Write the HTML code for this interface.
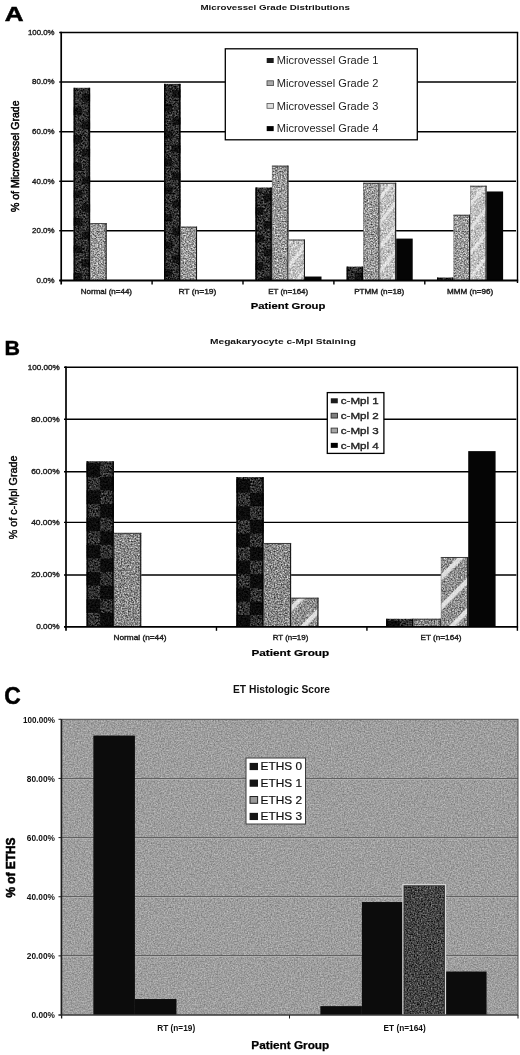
<!DOCTYPE html>
<html lang="en"><head><meta charset="utf-8"><title>Microvessel grade, c-Mpl staining and ET histologic score</title>
<style>
html,body{margin:0;padding:0;background:#fff;}
body{width:520px;height:1055px;overflow:hidden;}
svg{display:block;font-family:"Liberation Sans", sans-serif;}
</style></head><body>
<svg width="520" height="1055" viewBox="0 0 520 1055">
<defs>
<filter id="nbg" x="0" y="0" width="100%" height="100%" color-interpolation-filters="sRGB"><feTurbulence type="fractalNoise" baseFrequency="0.7" numOctaves="4" seed="5" result="t"/><feColorMatrix in="t" type="matrix" values="0.380 0 0 0 0.428  0.380 0 0 0 0.428  0.380 0 0 0 0.428  0 0 0 0 1" result="w"/><feComposite in="w" in2="SourceGraphic" operator="in"/></filter>
<filter id="ng1" x="0" y="0" width="100%" height="100%" color-interpolation-filters="sRGB"><feTurbulence type="fractalNoise" baseFrequency="0.6" numOctaves="3" seed="7" result="t"/><feColorMatrix in="t" type="matrix" values="0.800 0 0 0 -0.215  0.800 0 0 0 -0.215  0.800 0 0 0 -0.215  0 0 0 0 1" result="w"/><feComposite in="w" in2="SourceGraphic" operator="in"/></filter>
<filter id="ng2" x="0" y="0" width="100%" height="100%" color-interpolation-filters="sRGB"><feTurbulence type="fractalNoise" baseFrequency="0.7" numOctaves="4" seed="11" result="t"/><feColorMatrix in="t" type="matrix" values="1.050 0 0 0 0.075  1.050 0 0 0 0.075  1.050 0 0 0 0.075  0 0 0 0 1" result="w"/><feComposite in="w" in2="SourceGraphic" operator="in"/></filter>
<filter id="ng2b" x="0" y="0" width="100%" height="100%" color-interpolation-filters="sRGB"><feTurbulence type="fractalNoise" baseFrequency="0.7" numOctaves="4" seed="23" result="t"/><feColorMatrix in="t" type="matrix" values="1.000 0 0 0 0.035  1.000 0 0 0 0.035  1.000 0 0 0 0.035  0 0 0 0 1" result="w"/><feComposite in="w" in2="SourceGraphic" operator="in"/></filter>
<filter id="ng3" x="0" y="0" width="100%" height="100%" color-interpolation-filters="sRGB"><feTurbulence type="fractalNoise" baseFrequency="0.6" numOctaves="4" seed="19" result="t"/><feColorMatrix in="t" type="matrix" values="0.750 0 0 0 0.375  0.750 0 0 0 0.375  0.750 0 0 0 0.375  0 0 0 0 1" result="w"/><feComposite in="w" in2="SourceGraphic" operator="in"/></filter>
<filter id="ng3b" x="0" y="0" width="100%" height="100%" color-interpolation-filters="sRGB"><feTurbulence type="fractalNoise" baseFrequency="0.7" numOctaves="4" seed="17" result="t"/><feColorMatrix in="t" type="matrix" values="0.950 0 0 0 0.085  0.950 0 0 0 0.085  0.950 0 0 0 0.085  0 0 0 0 1" result="w"/><feComposite in="w" in2="SourceGraphic" operator="in"/></filter>
<filter id="ne2" x="0" y="0" width="100%" height="100%" color-interpolation-filters="sRGB"><feTurbulence type="fractalNoise" baseFrequency="0.7" numOctaves="4" seed="13" result="t"/><feColorMatrix in="t" type="matrix" values="0.750 0 0 0 -0.110  0.750 0 0 0 -0.110  0.750 0 0 0 -0.110  0 0 0 0 1" result="w"/><feComposite in="w" in2="SourceGraphic" operator="in"/></filter>
<pattern id="diagB" width="21" height="21" patternUnits="userSpaceOnUse" patternTransform="rotate(-45) translate(0,4)">
<rect x="0" y="0" width="21" height="4.6" fill="#f4f4f4" opacity="0.8"/>
</pattern>
<pattern id="diagA" width="15" height="15" patternUnits="userSpaceOnUse" patternTransform="rotate(-52)">
<rect x="0" y="0" width="15" height="3.2" fill="#f6f6f6" opacity="0.6"/>
</pattern>
</defs>
<rect width="520" height="1055" fill="#fff"/>

<text x="4.7" y="21.2" font-size="20" font-weight="bold" fill="#000" text-anchor="start" textLength="18.8" lengthAdjust="spacingAndGlyphs" stroke="#000" stroke-width="0.5">A</text>
<text x="200.4" y="10.1" font-size="8" font-weight="bold" fill="#111" text-anchor="start" textLength="149.5" lengthAdjust="spacingAndGlyphs">Microvessel Grade Distributions</text>
<line x1="61.20" y1="82.00" x2="516.00" y2="82.00" stroke="#000" stroke-width="1.4"/>
<line x1="61.20" y1="131.70" x2="516.00" y2="131.70" stroke="#000" stroke-width="1.4"/>
<line x1="61.20" y1="181.30" x2="516.00" y2="181.30" stroke="#000" stroke-width="1.4"/>
<line x1="61.20" y1="230.70" x2="516.00" y2="230.70" stroke="#000" stroke-width="1.4"/>
<rect x="73.60" y="87.80" width="16.53" height="192.70" fill="#292929" filter="url(#ng1)"/>
<rect x="73.60" y="87.80" width="1.60" height="192.70" fill="#000" opacity="0.85"/>
<rect x="88.52" y="87.80" width="1.60" height="192.70" fill="#000" opacity="0.85"/>
<rect x="81.86" y="93.80" width="8.26" height="7.50" fill="#000" opacity="0.6"/>
<rect x="73.60" y="107.60" width="8.26" height="7.50" fill="#000" opacity="0.6"/>
<rect x="81.86" y="121.40" width="8.26" height="7.50" fill="#000" opacity="0.6"/>
<rect x="73.60" y="135.20" width="8.26" height="7.50" fill="#000" opacity="0.6"/>
<rect x="81.86" y="149.00" width="8.26" height="7.50" fill="#000" opacity="0.6"/>
<rect x="73.60" y="162.80" width="8.26" height="7.50" fill="#000" opacity="0.6"/>
<rect x="81.86" y="176.60" width="8.26" height="7.50" fill="#000" opacity="0.6"/>
<rect x="73.60" y="190.40" width="8.26" height="7.50" fill="#000" opacity="0.6"/>
<rect x="81.86" y="204.20" width="8.26" height="7.50" fill="#000" opacity="0.6"/>
<rect x="73.60" y="218.00" width="8.26" height="7.50" fill="#000" opacity="0.6"/>
<rect x="81.86" y="231.80" width="8.26" height="7.50" fill="#000" opacity="0.6"/>
<rect x="73.60" y="245.60" width="8.26" height="7.50" fill="#000" opacity="0.6"/>
<rect x="81.86" y="259.40" width="8.26" height="7.50" fill="#000" opacity="0.6"/>
<rect x="73.60" y="273.20" width="8.26" height="7.30" fill="#000" opacity="0.6"/>
<rect x="90.12" y="223.21" width="16.53" height="57.29" fill="#a2a2a2" filter="url(#ng2)"/>
<rect x="105.55" y="223.21" width="1.10" height="57.29" fill="#1a1a1a"/>
<rect x="90.12" y="223.21" width="16.53" height="0.90" fill="#333"/>
<rect x="90.12" y="223.21" width="0.70" height="57.29" fill="#666" opacity="0.6"/>
<rect x="164.00" y="83.84" width="16.53" height="196.66" fill="#292929" filter="url(#ng1)"/>
<rect x="164.00" y="83.84" width="1.60" height="196.66" fill="#000" opacity="0.85"/>
<rect x="178.92" y="83.84" width="1.60" height="196.66" fill="#000" opacity="0.85"/>
<rect x="172.26" y="89.84" width="8.26" height="7.50" fill="#000" opacity="0.6"/>
<rect x="164.00" y="103.64" width="8.26" height="7.50" fill="#000" opacity="0.6"/>
<rect x="172.26" y="117.44" width="8.26" height="7.50" fill="#000" opacity="0.6"/>
<rect x="164.00" y="131.24" width="8.26" height="7.50" fill="#000" opacity="0.6"/>
<rect x="172.26" y="145.04" width="8.26" height="7.50" fill="#000" opacity="0.6"/>
<rect x="164.00" y="158.84" width="8.26" height="7.50" fill="#000" opacity="0.6"/>
<rect x="172.26" y="172.64" width="8.26" height="7.50" fill="#000" opacity="0.6"/>
<rect x="164.00" y="186.44" width="8.26" height="7.50" fill="#000" opacity="0.6"/>
<rect x="172.26" y="200.24" width="8.26" height="7.50" fill="#000" opacity="0.6"/>
<rect x="164.00" y="214.04" width="8.26" height="7.50" fill="#000" opacity="0.6"/>
<rect x="172.26" y="227.84" width="8.26" height="7.50" fill="#000" opacity="0.6"/>
<rect x="164.00" y="241.64" width="8.26" height="7.50" fill="#000" opacity="0.6"/>
<rect x="172.26" y="255.44" width="8.26" height="7.50" fill="#000" opacity="0.6"/>
<rect x="164.00" y="269.24" width="8.26" height="7.50" fill="#000" opacity="0.6"/>
<rect x="180.52" y="226.68" width="16.53" height="53.82" fill="#a2a2a2" filter="url(#ng2)"/>
<rect x="195.95" y="226.68" width="1.10" height="53.82" fill="#1a1a1a"/>
<rect x="180.52" y="226.68" width="16.53" height="0.90" fill="#333"/>
<rect x="180.52" y="226.68" width="0.70" height="53.82" fill="#666" opacity="0.6"/>
<rect x="255.40" y="187.50" width="16.53" height="93.00" fill="#292929" filter="url(#ng1)"/>
<rect x="255.40" y="187.50" width="1.60" height="93.00" fill="#000" opacity="0.85"/>
<rect x="270.32" y="187.50" width="1.60" height="93.00" fill="#000" opacity="0.85"/>
<rect x="263.66" y="193.50" width="8.26" height="7.50" fill="#000" opacity="0.6"/>
<rect x="255.40" y="207.30" width="8.26" height="7.50" fill="#000" opacity="0.6"/>
<rect x="263.66" y="221.10" width="8.26" height="7.50" fill="#000" opacity="0.6"/>
<rect x="255.40" y="234.90" width="8.26" height="7.50" fill="#000" opacity="0.6"/>
<rect x="263.66" y="248.70" width="8.26" height="7.50" fill="#000" opacity="0.6"/>
<rect x="255.40" y="262.50" width="8.26" height="7.50" fill="#000" opacity="0.6"/>
<rect x="263.66" y="276.30" width="8.26" height="4.20" fill="#000" opacity="0.6"/>
<rect x="271.92" y="165.68" width="16.53" height="114.82" fill="#a2a2a2" filter="url(#ng2)"/>
<rect x="287.35" y="165.68" width="1.10" height="114.82" fill="#1a1a1a"/>
<rect x="271.92" y="165.68" width="16.53" height="0.90" fill="#333"/>
<rect x="271.92" y="165.68" width="0.70" height="114.82" fill="#666" opacity="0.6"/>
<rect x="288.45" y="239.58" width="16.53" height="40.92" fill="#b8b8b8" filter="url(#ng3)"/>
<rect x="288.45" y="239.58" width="16.53" height="40.92" fill="url(#diagA)"/>
<rect x="303.88" y="239.58" width="1.10" height="40.92" fill="#1a1a1a"/>
<rect x="288.45" y="239.58" width="16.53" height="0.90" fill="#333"/>
<rect x="288.45" y="239.58" width="0.70" height="40.92" fill="#666" opacity="0.6"/>
<rect x="304.98" y="276.53" width="16.53" height="3.97" fill="#050505"/>
<rect x="346.60" y="266.61" width="16.53" height="13.89" fill="#292929" filter="url(#ng1)"/>
<rect x="346.60" y="266.61" width="1.60" height="13.89" fill="#000" opacity="0.85"/>
<rect x="361.52" y="266.61" width="1.60" height="13.89" fill="#000" opacity="0.85"/>
<rect x="354.86" y="272.61" width="8.26" height="7.50" fill="#000" opacity="0.6"/>
<rect x="363.12" y="182.79" width="16.53" height="97.71" fill="#a2a2a2" filter="url(#ng2)"/>
<rect x="378.55" y="182.79" width="1.10" height="97.71" fill="#1a1a1a"/>
<rect x="363.12" y="182.79" width="16.53" height="0.90" fill="#333"/>
<rect x="363.12" y="182.79" width="0.70" height="97.71" fill="#666" opacity="0.6"/>
<rect x="379.65" y="182.79" width="16.53" height="97.71" fill="#b8b8b8" filter="url(#ng3)"/>
<rect x="379.65" y="182.79" width="16.53" height="97.71" fill="url(#diagA)"/>
<rect x="395.08" y="182.79" width="1.10" height="97.71" fill="#1a1a1a"/>
<rect x="379.65" y="182.79" width="16.53" height="0.90" fill="#333"/>
<rect x="379.65" y="182.79" width="0.70" height="97.71" fill="#666" opacity="0.6"/>
<rect x="396.18" y="238.59" width="16.53" height="41.91" fill="#050505"/>
<rect x="437.00" y="277.52" width="16.53" height="2.98" fill="#292929" filter="url(#ng1)"/>
<rect x="437.00" y="277.52" width="1.60" height="2.98" fill="#000" opacity="0.85"/>
<rect x="451.92" y="277.52" width="1.60" height="2.98" fill="#000" opacity="0.85"/>
<rect x="453.52" y="214.78" width="16.53" height="65.72" fill="#a2a2a2" filter="url(#ng2)"/>
<rect x="468.95" y="214.78" width="1.10" height="65.72" fill="#1a1a1a"/>
<rect x="453.52" y="214.78" width="16.53" height="0.90" fill="#333"/>
<rect x="453.52" y="214.78" width="0.70" height="65.72" fill="#666" opacity="0.6"/>
<rect x="470.05" y="185.76" width="16.53" height="94.74" fill="#b8b8b8" filter="url(#ng3)"/>
<rect x="470.05" y="185.76" width="16.53" height="94.74" fill="url(#diagA)"/>
<rect x="485.48" y="185.76" width="1.10" height="94.74" fill="#1a1a1a"/>
<rect x="470.05" y="185.76" width="16.53" height="0.90" fill="#333"/>
<rect x="470.05" y="185.76" width="0.70" height="94.74" fill="#666" opacity="0.6"/>
<rect x="486.58" y="191.47" width="16.53" height="89.03" fill="#050505"/>
<line x1="60.40" y1="32.50" x2="518.20" y2="32.50" stroke="#000" stroke-width="1.4"/>
<line x1="517.50" y1="32.50" x2="517.50" y2="280.50" stroke="#000" stroke-width="1.4"/>
<line x1="61.20" y1="31.80" x2="61.20" y2="284.50" stroke="#000" stroke-width="1.7"/>
<line x1="59.40" y1="280.50" x2="518.20" y2="280.50" stroke="#000" stroke-width="1.8"/>
<line x1="59.20" y1="32.50" x2="61.20" y2="32.50" stroke="#000" stroke-width="1.4"/>
<line x1="59.20" y1="82.00" x2="61.20" y2="82.00" stroke="#000" stroke-width="1.4"/>
<line x1="59.20" y1="131.70" x2="61.20" y2="131.70" stroke="#000" stroke-width="1.4"/>
<line x1="59.20" y1="181.30" x2="61.20" y2="181.30" stroke="#000" stroke-width="1.4"/>
<line x1="59.20" y1="230.70" x2="61.20" y2="230.70" stroke="#000" stroke-width="1.4"/>
<line x1="59.20" y1="280.50" x2="61.20" y2="280.50" stroke="#000" stroke-width="1.4"/>
<line x1="152.10" y1="280.50" x2="152.10" y2="284.50" stroke="#000" stroke-width="1.4"/>
<line x1="243.00" y1="280.50" x2="243.00" y2="284.50" stroke="#000" stroke-width="1.4"/>
<line x1="333.90" y1="280.50" x2="333.90" y2="284.50" stroke="#000" stroke-width="1.4"/>
<line x1="424.80" y1="280.50" x2="424.80" y2="284.50" stroke="#000" stroke-width="1.4"/>
<line x1="517.50" y1="280.50" x2="517.50" y2="283.00" stroke="#000" stroke-width="1.4"/>
<text x="28.0" y="34.9" font-size="7" font-weight="normal" fill="#222" text-anchor="start" textLength="26.5" lengthAdjust="spacingAndGlyphs" stroke="#222" stroke-width="0.35">100.0%</text>
<text x="32.1" y="84.4" font-size="7" font-weight="normal" fill="#222" text-anchor="start" textLength="22.4" lengthAdjust="spacingAndGlyphs" stroke="#222" stroke-width="0.35">80.0%</text>
<text x="32.1" y="134.1" font-size="7" font-weight="normal" fill="#222" text-anchor="start" textLength="22.4" lengthAdjust="spacingAndGlyphs" stroke="#222" stroke-width="0.35">60.0%</text>
<text x="32.1" y="183.7" font-size="7" font-weight="normal" fill="#222" text-anchor="start" textLength="22.4" lengthAdjust="spacingAndGlyphs" stroke="#222" stroke-width="0.35">40.0%</text>
<text x="32.1" y="233.1" font-size="7" font-weight="normal" fill="#222" text-anchor="start" textLength="22.4" lengthAdjust="spacingAndGlyphs" stroke="#222" stroke-width="0.35">20.0%</text>
<text x="36.5" y="282.9" font-size="7" font-weight="normal" fill="#222" text-anchor="start" textLength="18.0" lengthAdjust="spacingAndGlyphs" stroke="#222" stroke-width="0.35">0.0%</text>
<g transform="translate(15.4,156.2) rotate(-90)"><text x="-55.8" y="3.8" font-size="10.5" font-weight="normal" fill="#000" stroke="#000" stroke-width="0.5" textLength="111.5" lengthAdjust="spacingAndGlyphs">% of Microvessel Grade</text></g>
<text x="80.8" y="293.7" font-size="6.6" font-weight="normal" fill="#222" text-anchor="start" textLength="51.2" lengthAdjust="spacingAndGlyphs" stroke="#222" stroke-width="0.35">Normal (n=44)</text>
<text x="178.4" y="293.7" font-size="6.6" font-weight="normal" fill="#222" text-anchor="start" textLength="38.0" lengthAdjust="spacingAndGlyphs" stroke="#222" stroke-width="0.35">RT (n=19)</text>
<text x="268.2" y="293.7" font-size="6.6" font-weight="normal" fill="#222" text-anchor="start" textLength="40.0" lengthAdjust="spacingAndGlyphs" stroke="#222" stroke-width="0.35">ET (n=164)</text>
<text x="354.2" y="293.7" font-size="6.6" font-weight="normal" fill="#222" text-anchor="start" textLength="50.0" lengthAdjust="spacingAndGlyphs" stroke="#222" stroke-width="0.35">PTMM (n=18)</text>
<text x="447.1" y="293.7" font-size="6.6" font-weight="normal" fill="#222" text-anchor="start" textLength="46.0" lengthAdjust="spacingAndGlyphs" stroke="#222" stroke-width="0.35">MMM (n=96)</text>
<text x="250.8" y="308.7" font-size="9.6" font-weight="bold" fill="#000" text-anchor="start" textLength="74.6" lengthAdjust="spacingAndGlyphs" stroke="#000" stroke-width="0.2">Patient Group</text>
<rect x="225.30" y="48.80" width="192.00" height="91.00" fill="#fff" stroke="#000" stroke-width="1.3"/>
<rect x="266.70" y="58.00" width="7.00" height="5.00" fill="#1c1c1c"/>
<text x="276.8" y="64.3" font-size="10.5" font-weight="normal" fill="#222" text-anchor="start" textLength="101.5" lengthAdjust="spacingAndGlyphs">Microvessel Grade 1</text>
<rect x="267.00" y="80.80" width="6.40" height="4.80" fill="#aaa" stroke="#444" stroke-width="0.8"/>
<text x="276.8" y="87.0" font-size="10.5" font-weight="normal" fill="#222" text-anchor="start" textLength="101.5" lengthAdjust="spacingAndGlyphs">Microvessel Grade 2</text>
<rect x="267.00" y="103.50" width="6.40" height="4.80" fill="#ddd" stroke="#555" stroke-width="0.8"/>
<text x="276.8" y="109.7" font-size="10.5" font-weight="normal" fill="#222" text-anchor="start" textLength="101.5" lengthAdjust="spacingAndGlyphs">Microvessel Grade 3</text>
<rect x="266.70" y="126.10" width="7.00" height="5.00" fill="#000"/>
<text x="276.8" y="132.4" font-size="10.5" font-weight="normal" fill="#222" text-anchor="start" textLength="101.5" lengthAdjust="spacingAndGlyphs">Microvessel Grade 4</text>
<text x="4.6" y="355.3" font-size="20" font-weight="bold" fill="#000" text-anchor="start" textLength="15.5" lengthAdjust="spacingAndGlyphs" stroke="#000" stroke-width="0.4">B</text>
<text x="210.0" y="343.7" font-size="8" font-weight="bold" fill="#111" text-anchor="start" textLength="146.0" lengthAdjust="spacingAndGlyphs">Megakaryocyte c-Mpl Staining</text>
<line x1="66.00" y1="419.20" x2="516.40" y2="419.20" stroke="#000" stroke-width="1.4"/>
<line x1="66.00" y1="471.80" x2="516.40" y2="471.80" stroke="#000" stroke-width="1.4"/>
<line x1="66.00" y1="522.40" x2="516.40" y2="522.40" stroke="#000" stroke-width="1.4"/>
<line x1="66.00" y1="575.00" x2="516.40" y2="575.00" stroke="#000" stroke-width="1.4"/>
<rect x="86.52" y="461.24" width="27.36" height="165.56" fill="#292929" filter="url(#ng1)"/>
<rect x="86.52" y="461.24" width="1.60" height="165.56" fill="#000" opacity="0.85"/>
<rect x="112.28" y="461.24" width="1.60" height="165.56" fill="#000" opacity="0.85"/>
<rect x="86.52" y="463.24" width="13.68" height="13.60" fill="#000" opacity="0.72"/>
<rect x="100.20" y="476.84" width="13.68" height="13.60" fill="#000" opacity="0.72"/>
<rect x="86.52" y="490.44" width="13.68" height="13.60" fill="#000" opacity="0.72"/>
<rect x="100.20" y="504.04" width="13.68" height="13.60" fill="#000" opacity="0.72"/>
<rect x="86.52" y="517.64" width="13.68" height="13.60" fill="#000" opacity="0.72"/>
<rect x="100.20" y="531.24" width="13.68" height="13.60" fill="#000" opacity="0.72"/>
<rect x="86.52" y="544.84" width="13.68" height="13.60" fill="#000" opacity="0.72"/>
<rect x="100.20" y="558.44" width="13.68" height="13.60" fill="#000" opacity="0.72"/>
<rect x="86.52" y="572.04" width="13.68" height="13.60" fill="#000" opacity="0.72"/>
<rect x="100.20" y="585.64" width="13.68" height="13.60" fill="#000" opacity="0.72"/>
<rect x="86.52" y="599.24" width="13.68" height="13.60" fill="#000" opacity="0.72"/>
<rect x="100.20" y="612.84" width="13.68" height="13.60" fill="#000" opacity="0.72"/>
<rect x="113.88" y="532.86" width="27.36" height="93.94" fill="#8a8a8a" filter="url(#ng2b)"/>
<rect x="140.13" y="532.86" width="1.10" height="93.94" fill="#1a1a1a"/>
<rect x="113.88" y="532.86" width="27.36" height="0.90" fill="#333"/>
<rect x="113.88" y="532.86" width="0.70" height="93.94" fill="#666" opacity="0.6"/>
<rect x="236.38" y="477.07" width="27.36" height="149.73" fill="#292929" filter="url(#ng1)"/>
<rect x="236.38" y="477.07" width="1.60" height="149.73" fill="#000" opacity="0.85"/>
<rect x="262.14" y="477.07" width="1.60" height="149.73" fill="#000" opacity="0.85"/>
<rect x="236.38" y="479.07" width="13.68" height="13.60" fill="#000" opacity="0.72"/>
<rect x="250.06" y="492.67" width="13.68" height="13.60" fill="#000" opacity="0.72"/>
<rect x="236.38" y="506.27" width="13.68" height="13.60" fill="#000" opacity="0.72"/>
<rect x="250.06" y="519.87" width="13.68" height="13.60" fill="#000" opacity="0.72"/>
<rect x="236.38" y="533.47" width="13.68" height="13.60" fill="#000" opacity="0.72"/>
<rect x="250.06" y="547.07" width="13.68" height="13.60" fill="#000" opacity="0.72"/>
<rect x="236.38" y="560.67" width="13.68" height="13.60" fill="#000" opacity="0.72"/>
<rect x="250.06" y="574.27" width="13.68" height="13.60" fill="#000" opacity="0.72"/>
<rect x="236.38" y="587.87" width="13.68" height="13.60" fill="#000" opacity="0.72"/>
<rect x="250.06" y="601.47" width="13.68" height="13.60" fill="#000" opacity="0.72"/>
<rect x="236.38" y="615.07" width="13.68" height="11.73" fill="#000" opacity="0.72"/>
<rect x="263.74" y="542.98" width="27.36" height="83.82" fill="#8a8a8a" filter="url(#ng2b)"/>
<rect x="290.00" y="542.98" width="1.10" height="83.82" fill="#1a1a1a"/>
<rect x="263.74" y="542.98" width="27.36" height="0.90" fill="#333"/>
<rect x="263.74" y="542.98" width="0.70" height="83.82" fill="#666" opacity="0.6"/>
<rect x="291.10" y="597.74" width="27.36" height="29.06" fill="#a8a8a8" filter="url(#ng3b)"/>
<rect x="291.10" y="597.74" width="27.36" height="29.06" fill="url(#diagB)"/>
<rect x="317.36" y="597.74" width="1.10" height="29.06" fill="#1a1a1a"/>
<rect x="291.10" y="597.74" width="27.36" height="0.90" fill="#333"/>
<rect x="291.10" y="597.74" width="0.70" height="29.06" fill="#666" opacity="0.6"/>
<rect x="386.15" y="618.76" width="27.36" height="8.04" fill="#292929" filter="url(#ng1)"/>
<rect x="386.15" y="618.76" width="1.60" height="8.04" fill="#000" opacity="0.85"/>
<rect x="411.91" y="618.76" width="1.60" height="8.04" fill="#000" opacity="0.85"/>
<rect x="386.15" y="620.76" width="13.68" height="6.04" fill="#000" opacity="0.72"/>
<rect x="413.51" y="618.76" width="27.36" height="8.04" fill="#8a8a8a" filter="url(#ng2b)"/>
<rect x="439.77" y="618.76" width="1.10" height="8.04" fill="#1a1a1a"/>
<rect x="413.51" y="618.76" width="27.36" height="0.90" fill="#333"/>
<rect x="413.51" y="618.76" width="0.70" height="8.04" fill="#666" opacity="0.6"/>
<rect x="440.87" y="556.99" width="27.36" height="69.81" fill="#a8a8a8" filter="url(#ng3b)"/>
<rect x="440.87" y="556.99" width="27.36" height="69.81" fill="url(#diagB)"/>
<rect x="467.12" y="556.99" width="1.10" height="69.81" fill="#1a1a1a"/>
<rect x="440.87" y="556.99" width="27.36" height="0.90" fill="#333"/>
<rect x="440.87" y="556.99" width="0.70" height="69.81" fill="#666" opacity="0.6"/>
<rect x="468.22" y="451.12" width="27.36" height="175.68" fill="#050505"/>
<line x1="65.20" y1="367.30" x2="518.10" y2="367.30" stroke="#000" stroke-width="1.4"/>
<line x1="517.40" y1="367.30" x2="517.40" y2="626.80" stroke="#000" stroke-width="1.4"/>
<line x1="66.00" y1="366.60" x2="66.00" y2="630.80" stroke="#000" stroke-width="1.7"/>
<line x1="64.20" y1="626.80" x2="518.10" y2="626.80" stroke="#000" stroke-width="1.8"/>
<line x1="64.00" y1="367.30" x2="66.00" y2="367.30" stroke="#000" stroke-width="1.4"/>
<line x1="64.00" y1="419.20" x2="66.00" y2="419.20" stroke="#000" stroke-width="1.4"/>
<line x1="64.00" y1="471.80" x2="66.00" y2="471.80" stroke="#000" stroke-width="1.4"/>
<line x1="64.00" y1="522.40" x2="66.00" y2="522.40" stroke="#000" stroke-width="1.4"/>
<line x1="64.00" y1="575.00" x2="66.00" y2="575.00" stroke="#000" stroke-width="1.4"/>
<line x1="64.00" y1="626.80" x2="66.00" y2="626.80" stroke="#000" stroke-width="1.4"/>
<line x1="216.47" y1="626.80" x2="216.47" y2="630.80" stroke="#000" stroke-width="1.4"/>
<line x1="366.93" y1="626.80" x2="366.93" y2="630.80" stroke="#000" stroke-width="1.4"/>
<line x1="517.40" y1="626.80" x2="517.40" y2="630.80" stroke="#000" stroke-width="1.4"/>
<text x="27.7" y="369.7" font-size="7" font-weight="normal" fill="#222" text-anchor="start" textLength="32.0" lengthAdjust="spacingAndGlyphs" stroke="#222" stroke-width="0.35">100.00%</text>
<text x="31.2" y="421.6" font-size="7" font-weight="normal" fill="#222" text-anchor="start" textLength="28.5" lengthAdjust="spacingAndGlyphs" stroke="#222" stroke-width="0.35">80.00%</text>
<text x="31.2" y="474.2" font-size="7" font-weight="normal" fill="#222" text-anchor="start" textLength="28.5" lengthAdjust="spacingAndGlyphs" stroke="#222" stroke-width="0.35">60.00%</text>
<text x="31.2" y="524.8" font-size="7" font-weight="normal" fill="#222" text-anchor="start" textLength="28.5" lengthAdjust="spacingAndGlyphs" stroke="#222" stroke-width="0.35">40.00%</text>
<text x="31.2" y="577.4" font-size="7" font-weight="normal" fill="#222" text-anchor="start" textLength="28.5" lengthAdjust="spacingAndGlyphs" stroke="#222" stroke-width="0.35">20.00%</text>
<text x="36.2" y="629.2" font-size="7" font-weight="normal" fill="#222" text-anchor="start" textLength="23.5" lengthAdjust="spacingAndGlyphs" stroke="#222" stroke-width="0.35">0.00%</text>
<g transform="translate(13.4,497.4) rotate(-90)"><text x="-41.8" y="3.9" font-size="11" font-weight="normal" fill="#000" stroke="#000" stroke-width="0.4" textLength="83.6" lengthAdjust="spacingAndGlyphs">% of c-Mpl Grade</text></g>
<text x="113.5" y="639.7" font-size="6.6" font-weight="normal" fill="#222" text-anchor="start" textLength="53.0" lengthAdjust="spacingAndGlyphs" stroke="#222" stroke-width="0.35">Normal (n=44)</text>
<text x="272.8" y="639.7" font-size="6.6" font-weight="normal" fill="#222" text-anchor="start" textLength="35.5" lengthAdjust="spacingAndGlyphs" stroke="#222" stroke-width="0.35">RT (n=19)</text>
<text x="420.5" y="639.7" font-size="6.6" font-weight="normal" fill="#222" text-anchor="start" textLength="41.0" lengthAdjust="spacingAndGlyphs" stroke="#222" stroke-width="0.35">ET (n=164)</text>
<text x="251.5" y="656.3" font-size="9.8" font-weight="bold" fill="#000" text-anchor="start" textLength="77.7" lengthAdjust="spacingAndGlyphs" stroke="#000" stroke-width="0.2">Patient Group</text>
<rect x="327.30" y="392.60" width="56.60" height="60.80" fill="#fff" stroke="#000" stroke-width="1.3"/>
<rect x="330.80" y="398.30" width="7.00" height="5.00" fill="#1c1c1c"/>
<text x="340.8" y="404.2" font-size="9.5" font-weight="normal" fill="#222" text-anchor="start" textLength="38.0" lengthAdjust="spacingAndGlyphs" stroke="#222" stroke-width="0.35">c-Mpl 1</text>
<rect x="331.10" y="413.25" width="6.40" height="4.80" fill="#808080" stroke="#2a2a2a" stroke-width="0.9"/>
<text x="340.8" y="419.1" font-size="9.5" font-weight="normal" fill="#222" text-anchor="start" textLength="38.0" lengthAdjust="spacingAndGlyphs" stroke="#222" stroke-width="0.35">c-Mpl 2</text>
<rect x="331.10" y="428.10" width="6.40" height="4.80" fill="#a6a6a6" stroke="#3a3a3a" stroke-width="0.9"/>
<text x="340.8" y="433.9" font-size="9.5" font-weight="normal" fill="#222" text-anchor="start" textLength="38.0" lengthAdjust="spacingAndGlyphs" stroke="#222" stroke-width="0.35">c-Mpl 3</text>
<rect x="330.80" y="442.85" width="7.00" height="5.00" fill="#000"/>
<text x="340.8" y="448.8" font-size="9.5" font-weight="normal" fill="#222" text-anchor="start" textLength="38.0" lengthAdjust="spacingAndGlyphs" stroke="#222" stroke-width="0.35">c-Mpl 4</text>
<text x="4.3" y="703.7" font-size="23" font-weight="bold" fill="#000" text-anchor="start" textLength="16.5" lengthAdjust="spacingAndGlyphs" stroke="#000" stroke-width="0.5">C</text>
<text x="233.0" y="692.8" font-size="10.5" font-weight="bold" fill="#111" text-anchor="start" textLength="97.0" lengthAdjust="spacingAndGlyphs">ET Histologic Score</text>
<rect x="61.00" y="719.30" width="457.00" height="295.70" fill="#a9a9a9" filter="url(#nbg)"/>
<line x1="61.00" y1="778.50" x2="518.00" y2="778.50" stroke="#505050" stroke-width="0.8"/>
<line x1="61.00" y1="779.50" x2="518.00" y2="779.50" stroke="#bcbcbc" stroke-width="0.5"/>
<line x1="61.00" y1="837.50" x2="518.00" y2="837.50" stroke="#505050" stroke-width="0.8"/>
<line x1="61.00" y1="838.50" x2="518.00" y2="838.50" stroke="#bcbcbc" stroke-width="0.5"/>
<line x1="61.00" y1="896.50" x2="518.00" y2="896.50" stroke="#505050" stroke-width="0.8"/>
<line x1="61.00" y1="897.50" x2="518.00" y2="897.50" stroke="#bcbcbc" stroke-width="0.5"/>
<line x1="61.00" y1="955.50" x2="518.00" y2="955.50" stroke="#505050" stroke-width="0.8"/>
<line x1="61.00" y1="956.50" x2="518.00" y2="956.50" stroke="#bcbcbc" stroke-width="0.5"/>
<rect x="93.36" y="735.56" width="41.55" height="279.44" fill="#0c0c0c"/>
<rect x="134.90" y="999.03" width="41.55" height="15.97" fill="#0c0c0c"/>
<rect x="320.36" y="1006.13" width="41.55" height="8.87" fill="#0c0c0c"/>
<rect x="361.90" y="902.04" width="41.55" height="112.96" fill="#0c0c0c"/>
<rect x="445.00" y="971.53" width="41.55" height="43.47" fill="#0c0c0c"/>
<rect x="402.65" y="884.15" width="43.25" height="130.85" fill="#5a5a5a" filter="url(#ne2)"/>
<rect x="404.15" y="885.65" width="40.25" height="129.35" fill="none" stroke="#2e2e2e" stroke-width="1"/>
<rect x="402.85" y="884.65" width="42.65" height="130.35" fill="none" stroke="#dadada" stroke-width="1.2"/>
<rect x="61.00" y="719.30" width="457.00" height="295.70" fill="none" stroke="#4a4a4a" stroke-width="1"/>
<line x1="61.60" y1="719.30" x2="61.60" y2="1018.50" stroke="#1c1c1c" stroke-width="1.3"/>
<line x1="58.50" y1="1015.00" x2="518.00" y2="1015.00" stroke="#333" stroke-width="1"/>
<line x1="58.50" y1="719.30" x2="61.00" y2="719.30" stroke="#222" stroke-width="1"/>
<line x1="58.50" y1="778.44" x2="61.00" y2="778.44" stroke="#222" stroke-width="1"/>
<line x1="58.50" y1="837.58" x2="61.00" y2="837.58" stroke="#222" stroke-width="1"/>
<line x1="58.50" y1="896.72" x2="61.00" y2="896.72" stroke="#222" stroke-width="1"/>
<line x1="58.50" y1="955.86" x2="61.00" y2="955.86" stroke="#222" stroke-width="1"/>
<line x1="58.50" y1="1015.00" x2="61.00" y2="1015.00" stroke="#222" stroke-width="1"/>
<line x1="289.50" y1="1015.00" x2="289.50" y2="1018.50" stroke="#222" stroke-width="1"/>
<line x1="518.00" y1="1015.00" x2="518.00" y2="1018.50" stroke="#222" stroke-width="1"/>
<text x="23.0" y="722.5" font-size="9" font-weight="bold" fill="#111" text-anchor="start" textLength="32.0" lengthAdjust="spacingAndGlyphs">100.00%</text>
<text x="26.8" y="781.7" font-size="9" font-weight="bold" fill="#111" text-anchor="start" textLength="28.2" lengthAdjust="spacingAndGlyphs">80.00%</text>
<text x="26.8" y="840.8" font-size="9" font-weight="bold" fill="#111" text-anchor="start" textLength="28.2" lengthAdjust="spacingAndGlyphs">60.00%</text>
<text x="26.8" y="899.9" font-size="9" font-weight="bold" fill="#111" text-anchor="start" textLength="28.2" lengthAdjust="spacingAndGlyphs">40.00%</text>
<text x="26.8" y="959.1" font-size="9" font-weight="bold" fill="#111" text-anchor="start" textLength="28.2" lengthAdjust="spacingAndGlyphs">20.00%</text>
<text x="31.5" y="1018.2" font-size="9" font-weight="bold" fill="#111" text-anchor="start" textLength="23.5" lengthAdjust="spacingAndGlyphs">0.00%</text>
<g transform="translate(10.0,867.6) rotate(-90)"><text x="-30.0" y="4.5" font-size="12.5" font-weight="bold" fill="#000" stroke="#000" stroke-width="0.55" textLength="60.0" lengthAdjust="spacingAndGlyphs">% of ETHS</text></g>
<text x="157.2" y="1031.3" font-size="8.5" font-weight="bold" fill="#111" text-anchor="start" textLength="38.0" lengthAdjust="spacingAndGlyphs">RT (n=19)</text>
<text x="383.5" y="1031.3" font-size="8.5" font-weight="bold" fill="#111" text-anchor="start" textLength="42.2" lengthAdjust="spacingAndGlyphs">ET (n=164)</text>
<text x="251.3" y="1049.0" font-size="11" font-weight="bold" fill="#000" text-anchor="start" textLength="78.0" lengthAdjust="spacingAndGlyphs" stroke="#000" stroke-width="0.25">Patient Group</text>
<rect x="246.00" y="758.00" width="59.50" height="66.00" fill="#fff" stroke="#3c3c3c" stroke-width="1"/>
<rect x="249.60" y="762.90" width="8.40" height="7.20" fill="#161616"/>
<text x="260.5" y="770.4" font-size="11" font-weight="normal" fill="#111" text-anchor="start" textLength="41.5" lengthAdjust="spacingAndGlyphs" stroke="#111" stroke-width="0.2">ETHS 0</text>
<rect x="249.60" y="779.55" width="8.40" height="7.20" fill="#161616"/>
<text x="260.5" y="787.1" font-size="11" font-weight="normal" fill="#111" text-anchor="start" textLength="41.5" lengthAdjust="spacingAndGlyphs" stroke="#111" stroke-width="0.2">ETHS 1</text>
<rect x="250.00" y="796.50" width="7.60" height="6.80" fill="#9a9a9a" stroke="#222" stroke-width="1"/>
<text x="260.5" y="803.7" font-size="11" font-weight="normal" fill="#111" text-anchor="start" textLength="41.5" lengthAdjust="spacingAndGlyphs" stroke="#111" stroke-width="0.2">ETHS 2</text>
<rect x="249.60" y="812.85" width="8.40" height="7.20" fill="#161616"/>
<text x="260.5" y="820.4" font-size="11" font-weight="normal" fill="#111" text-anchor="start" textLength="41.5" lengthAdjust="spacingAndGlyphs" stroke="#111" stroke-width="0.2">ETHS 3</text>
</svg>
</body></html>
